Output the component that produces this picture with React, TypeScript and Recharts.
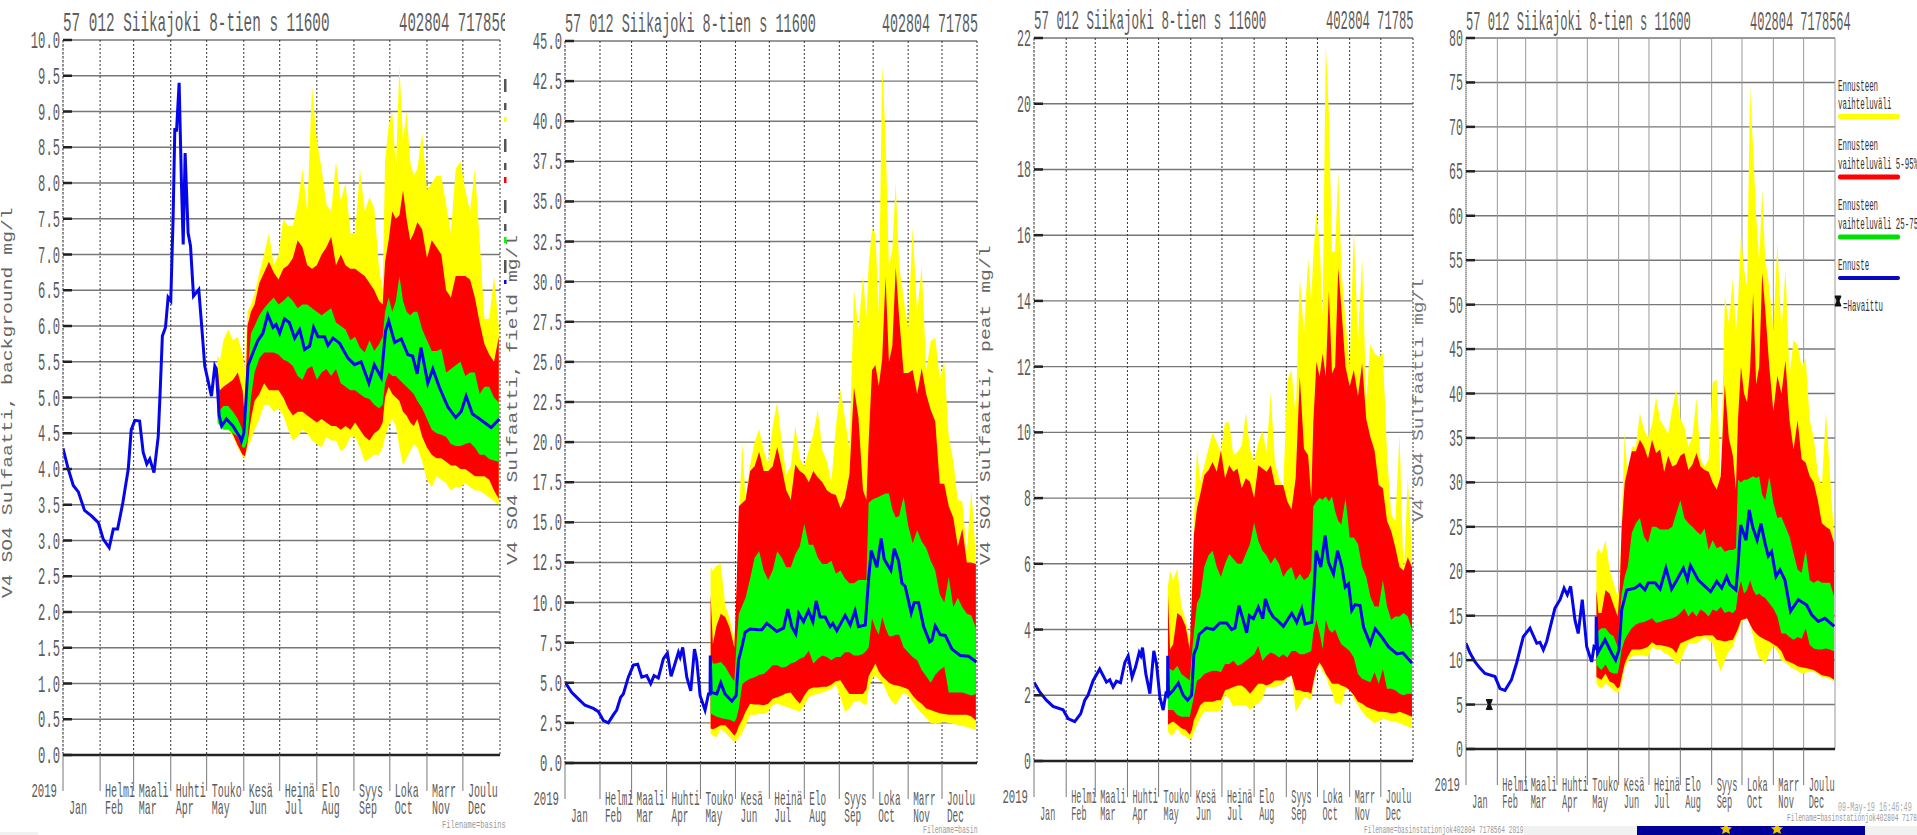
import React from 'react';
import { ComposedChart, Area, Line, Scatter, XAxis, YAxis, CartesianGrid } from 'recharts';

const monthDays = [0, 31, 59, 90, 120, 151, 181, 212, 243, 273, 304, 334];
const gridDays = [0, 31, 59, 90, 120, 151, 181, 212, 243, 273, 304, 334, 365];
const monthsFi = ['', 'Helmi', 'Maali', 'Huhti', 'Touko', 'Kesä', 'Heinä', 'Elo', 'Syys', 'Loka', 'Marr', 'Joulu'];
const monthsEn = ['Jan', 'Feb', 'Mar', 'Apr', 'May', 'Jun', 'Jul', 'Aug', 'Sep', 'Oct', 'Nov', 'Dec'];

const forecastDays = [129,131,134,138,142,146,150,152,154,157,160,164,168,172,176,180,184,188,192,196,200,204,208,212,216,220,224,228,232,236,240,244,248,252,256,260,264,267,269,272,275,278,281,284,287,290,293,296,300,304,308,312,316,320,324,328,332,336,340,344,348,352,356,360,364];

// background
const bgYellowHi = [5.6,5.5,5.8,5.95,5.8,5.85,5.6,5.4,6.2,6.3,6.45,6.75,7,7.3,6.85,7,7.5,7.4,7.4,7.7,8.2,7.6,9.35,8.6,8.2,7.7,7.6,8.3,7.75,8,7.3,7.3,8.2,7.6,7.8,7.65,6.8,6.5,8.3,8.8,9,8.2,9.65,8.6,9,8.3,8.1,8.2,8.7,7.9,8,8.1,8.1,7.7,7.3,8.2,8.3,7.9,7.6,8.2,7.2,6.1,6.1,6.7,6];
const bgRedHi = [5.45,5.1,5.15,5.2,5.25,5.35,5.1,4.7,6,6.2,6.3,6.6,6.75,6.9,6.75,6.65,6.8,6.85,6.95,7.2,7.1,6.85,6.8,6.85,7,7.1,7.25,6.85,7,6.85,6.8,6.8,6.75,6.7,6.6,6.5,6.35,6.3,6.9,7.2,7.6,7.5,7.55,7.9,7.5,7.2,7.3,7.45,7.35,6.95,7.2,7.1,7,6.5,6.4,6.7,6.7,6.7,6.65,6.4,6.05,5.75,5.6,5.5,5.85];
const bgGreenHi = [4.8,4.82,4.88,4.88,4.8,4.7,4.55,4.5,5.3,5.9,6,6.15,6.25,6.33,6.4,6.3,6.35,6.42,6.35,6.25,6.3,6.3,6.25,6.2,6.15,6.2,6.25,6.05,6,5.95,5.8,5.85,5.7,5.63,5.8,5.65,5.75,5.85,6.2,6.4,6.2,6.35,6.7,6.35,6.2,6.15,6.2,6.2,5.95,5.8,5.65,5.65,5.68,5.35,5.4,5.45,5.5,5.3,5.35,5.35,5.05,5.15,5.15,5,4.93];
const bgGreenLo = [4.65,4.6,4.55,4.55,4.5,4.45,4.3,4.3,4.4,5,5.35,5.55,5.63,5.63,5.63,5.6,5.53,5.5,5.44,5.3,5.25,5.4,5.44,5.25,5.35,5.4,5.3,5.4,5.2,5.15,5.1,5.1,5.05,5,4.98,4.9,4.85,4.9,5.2,5.35,5.3,5.3,5.25,5.2,5.15,5.1,5.05,4.95,4.85,4.7,4.55,4.5,4.48,4.45,4.35,4.32,4.32,4.35,4.37,4.3,4.2,4.2,4.14,4.12,4.1];
const bgRedLo = [4.8,4.72,4.62,4.58,4.48,4.33,4.2,4.18,4.35,4.7,4.95,5.05,5.2,5.1,5.1,5.1,5,4.85,4.75,4.8,4.8,4.75,4.7,4.65,4.7,4.65,4.6,4.6,4.55,4.6,4.55,4.65,4.55,4.45,4.4,4.5,4.55,4.65,5,5.15,5.05,5,4.95,4.8,4.75,4.65,4.6,4.7,4.45,4.3,4.2,4.15,4.15,4.1,4.05,4.05,4,4,3.95,3.9,3.9,3.9,3.85,3.7,3.58];
const bgYellowLo = [4.75,4.7,4.6,4.55,4.45,4.3,4.17,4.15,4.3,4.4,4.55,4.7,4.9,4.9,4.8,4.85,4.75,4.55,4.4,4.45,4.55,4.5,4.4,4.35,4.3,4.45,4.4,4.4,4.25,4.3,4.45,4.45,4.3,4.1,4.15,4.2,4.2,4.3,4.45,4.6,4.7,4.6,4.3,4.05,4.15,4.25,4.35,4.3,4.1,3.85,3.75,3.9,3.85,3.8,3.7,3.75,3.75,3.8,3.75,3.7,3.7,3.65,3.6,3.55,3.5];
const bgLineDays = [0,4.4,8.6,12.8,18,24,29.5,33.6,38.6,42,45.6,50,54.5,57,60,64,67,70,72.5,76,79.5,81,83,85.6,87.8,90,92,93.4,94.8,97,99,100.4,102,104.5,106.5,109,113.4,115.6,118.4,124,126.8,128,130.4,132.5,136.5,142,147.6,149,151,152.6,154.6,158.7,162.9,167,171,175.4,178,181,185,189,193.5,197.7,201.8,206,209.3,213,218.5,221.3,225.5,231,238,243.5,249,255.5,260,265.8,269.4,272,277,282.5,288,292,295.8,299,304.7,308.9,314.4,321.4,328,332.5,336.7,342,348,357.6,364.5];
const bgLine = [4.29,4,3.77,3.68,3.42,3.34,3.25,3.02,2.9,3.16,3.16,3.53,4,4.55,4.68,4.67,4.23,4.07,4.14,3.95,4.45,5.02,5.86,5.98,6.4,6.35,7.53,8.77,8.72,9.4,7.95,7.14,8.42,7.3,7.12,6.42,6.51,6.05,5.44,5.02,5.44,5.4,4.75,4.6,4.7,4.6,4.45,4.39,4.5,4.9,5.45,5.63,5.8,5.9,6.16,5.98,6.02,5.9,6.1,6.05,5.83,5.95,5.67,5.72,5.98,5.85,5.85,5.73,5.83,5.76,5.55,5.46,5.5,5.2,5.46,5.28,5.93,6.07,5.77,5.82,5.6,5.58,5.33,5.7,5.2,5.4,5.14,4.87,4.72,4.8,5.02,4.77,4.7,4.58,4.7];

// field
const fieldYellowHi = [12.2,12,12.3,12.4,9.8,9,7.6,10,15,20,16.4,18.6,20,20.8,19.5,18.6,21,22.5,20,18,18.5,21,19,18.5,19.5,20.5,22,19.5,18.8,17.5,21,23.3,21.5,19.5,29.5,27,30.4,27.8,31,33.3,33,28,43.5,39,31,32,36.2,31,29,27,33.4,28,31,24.5,26.3,26.5,24,25,20.3,18.8,16.4,16.3,13.2,17,12.8];
const fieldRedHi = [10.5,7.4,8.5,9.3,9.1,8.4,7.2,11,16,16.2,16.4,18.2,18.5,19.4,18.2,18.2,18.5,19.7,18.4,17,16.4,18.6,18.2,18,17.5,18.2,17.8,17.5,17,16.8,16.7,15.9,16.5,18,23.4,21.5,17,16.4,20,24.5,24.8,23.5,25.2,30.3,25,26,30.9,27.8,24.3,24.3,24.5,23,24.6,23,22,21.3,17.4,17.4,16,15.3,13.5,14.6,12.5,12.5,12.4];
const fieldGreenHi = [6.8,6.2,6.2,6.3,6,5.5,5.1,7.5,9.3,9.8,10.3,11.5,12.8,13.2,12,11.4,12,13.2,12.8,12.2,12.2,13,13.5,14.9,13.6,13.6,12.8,12.4,12.4,12.6,11.8,12,11.5,11.2,11.2,11.4,11.4,11.4,16.2,16.4,16.5,16.6,16.7,16.8,16.8,15.8,15.3,15.4,16.6,14.8,13.7,14.5,13.8,13.4,12.6,12,10.5,10,11.6,9.7,10.3,9.7,9.3,9.2,8.4];
const fieldGreenLo = [3.1,3,2.9,2.8,2.75,2.7,2.55,2.8,3.4,4.9,5.1,5.25,5.35,5.5,5.55,5.8,6.1,6.1,5.95,6,6.2,6.3,6.5,6.6,7,6.2,6.5,6.7,6.6,6.4,6.6,6.6,6.9,6.9,6.7,6.7,6.8,7,7.2,9,8.4,8,9.1,8.4,7.9,7.9,8,8,7.2,6.9,6.6,6.4,5.8,5.4,5,5.5,5.8,6,4.4,4.4,4.4,4.4,4.3,4.2,4.3];
const fieldRedLo = [2.15,2.1,2.2,2.35,2.35,2.05,1.7,1.9,2.3,2.7,3.2,3.7,3.65,3.65,3.6,3.7,4,4.1,4.2,4.35,4.4,4,3.7,4.2,4.6,4.7,4.7,4.75,4.75,4.9,5.1,5.15,4.7,4.3,4.3,4.3,4.3,4.6,5.4,5.8,6.2,5.7,5.4,5.2,5,4.9,4.85,4.8,4.7,4.6,4.2,3.9,3.7,3.4,3.3,3.2,3.1,3.05,3,3,3,3,3,2.9,2.65];
const fieldYellowLo = [1.85,1.7,1.6,2.1,1.9,1.6,1.3,1.4,1.55,1.9,2.3,3,3,3.05,3.05,3.2,3.6,3.7,3.6,3.5,3.4,3.3,3.2,3.6,4.1,4.25,4.3,4.4,4.5,4.6,4.9,4.1,3.2,3.4,3.8,3.9,3.7,3.6,4.6,5.25,5.45,5.2,5,4.6,4.1,3.8,3.6,4,4.4,4.2,3.8,3.4,3.1,2.8,2.5,2.45,2.5,2.55,2.5,2.45,2.35,2.3,2.25,2.15,2.05];
const fieldLineDays = [0,5.9,11.8,17.7,25.1,29.6,34,38.4,42.8,45.8,49.3,51.7,56.1,60.6,64.4,68,72.4,75.9,78.9,82.7,87.2,90.7,94,96.6,100.5,102,104.3,107.9,111.4,114.7,116.7,119.7,124.1,127.1,128.5,128.7,129.5,134.5,138,141.8,147.8,151.6,153.7,156.6,159.6,164,171.4,174.3,178.8,187.6,193.6,197.4,200.9,204.5,207.1,211.3,215.7,219.6,222.5,226,230.5,234.9,237.3,240.8,248.2,252.7,257,260,266,268.9,271.3,276.3,280.1,282.8,288.7,291.7,295.5,298.5,301.4,306.7,309.4,313.2,317.7,323,325,328,332.4,336.9,342.8,350.2,357.6,364.4];
const fieldLine = [5.05,4.4,4,3.6,3.4,3.2,2.65,2.5,3,3.3,4.1,4.3,5.35,6.1,6.15,5.35,5.45,4.95,5.45,5.3,6.5,6.85,5.4,6,6.9,6.6,7.2,5.35,4.5,7.1,6.4,4.2,3.3,4.3,4.3,6.7,4.4,4.3,5,4.3,3.85,4.2,6.4,7.2,8.15,8.35,8.3,8.3,8.7,8.2,8.4,9.6,8.5,8.05,9.3,8.8,9.5,8.8,10.1,9.1,9.1,8.5,8.7,8.25,9.2,8.6,9.5,8.5,8.6,11.4,13.25,12.2,14,12.7,12,13.35,12.6,11.2,11,9.35,10,10,8.5,7.55,7.65,8.55,8,7.95,7.1,6.7,6.65,6.3];

// peat
const peatYellowHi = [5.3,5.8,5.5,5.85,4.7,4.3,3.7,4.4,7.3,9.5,8.5,9,9.5,10,9.7,9.4,10.3,10.3,9.3,9.4,9.6,10.6,9.5,9.1,9.7,10.05,9.4,11.2,9.1,8.6,8.3,11.6,11.9,10.5,14.7,13,15.3,14,15.4,16.7,15.8,13.6,21.8,19.7,15.5,15.5,17.95,15,13.4,12,16.2,12.8,15.3,11,12.7,12.4,12.3,12.4,9.35,7.5,7.3,9.95,5.6,8.6,6.3];
const peatRedHi = [5.1,3.4,3.55,4.5,4.4,4.1,3.4,5,6.9,7.7,8.1,8.7,8.85,9.1,8.8,9.45,8.6,9,8.8,8.9,8.3,8.6,8.5,8,9,8.9,8.8,9,8.4,8.4,8.4,7.9,7.65,8.6,11.7,9.5,9.3,8,10.3,12.15,11.7,12.4,11.7,14.3,11.8,12,15,13.8,12,11.4,11.9,11.1,12.1,10.4,9.85,9.45,8.4,8.3,7.3,7,6.5,5.9,5.8,6.2,5.9];
const peatGreenHi = [2.85,2.8,2.75,2.9,2.65,2.55,2.45,3.25,3.9,4.8,5,5.9,6.25,6.4,5.9,5.6,6,6.3,6.15,6,6,6.3,6.6,7.25,6.7,6.4,6.25,6,6.2,6,5.6,5.8,5.9,5.5,5.7,5.5,5.6,5.8,7.75,7.9,8,7.95,8.05,7.9,8.05,7.6,7.3,7.2,8,6.8,6.8,6.6,5.9,5.6,5,4.7,4.7,5.5,4.7,4.3,4.4,4.4,4.5,4.4,4];
const peatGreenLo = [1.55,1.55,1.55,1.4,1.35,1.35,1.35,1.65,1.95,2.45,2.5,2.65,2.7,2.75,2.75,2.7,2.95,2.95,3.05,2.9,2.95,3.05,3.15,3.25,3.5,3.05,3.2,3.3,3.25,3.15,3.25,3.15,3.35,3.35,3.25,3.25,3.3,3.35,3.9,4.3,3.9,3.4,4.3,4,3.9,4,3.75,3.55,3.45,3.35,3.15,2.65,2.5,2.45,2.4,2.7,2.35,2.8,2.2,2.2,2.15,2.05,2,2.05,2.05];
const peatRedLo = [1.1,1.15,1.2,1.1,1,0.95,0.8,0.95,1.25,1.45,1.7,1.8,1.8,1.8,1.85,1.85,2.15,2.2,2.25,2.3,2.3,2.2,2.05,2.2,2.35,2.35,2.3,2.35,2.45,2.45,2.45,2.55,2.6,2.15,2.15,2.1,2.1,2.05,2.4,2.8,3,2.85,2.65,2.5,2.35,2.35,2.35,2.3,2.25,2.15,2,1.8,1.75,1.65,1.6,1.55,1.5,1.5,1.48,1.45,1.45,1.5,1.45,1.4,1.35];
const peatYellowLo = [0.9,0.8,0.8,1,0.8,0.75,0.65,0.7,0.85,1.1,1.3,1.5,1.5,1.5,1.5,1.55,2,1.9,1.65,1.7,1.7,1.7,1.55,1.7,1.75,1.9,2.25,2.25,2.25,2.3,2.35,2.5,2.6,1.5,1.7,1.95,1.9,1.85,2.3,2.75,2.95,2.7,2.6,2.3,2.1,1.75,1.75,1.7,2.2,2.2,1.9,1.7,1.5,1.35,1.25,1.15,1.2,1.3,1.25,1.2,1.2,1.15,1.1,1.05,1];
const peatLineDays = [0,5.5,11.9,18.3,28,32.8,39.2,45,48.9,52,57,63.3,69.8,73,76.2,79.4,83.3,87.5,90.7,94.5,97.7,101.3,102.9,104.5,107.7,111.6,115.4,118,121.2,124.4,127,128.6,128.8,129.6,134,139,143.7,148,151.8,154,156.6,159,166,172.7,179,185.5,190.4,193.6,197.4,201.6,204.8,207.4,211.3,216,220.3,222.8,226.7,230.5,234.7,240.2,248.2,253,257.9,261,267.5,269.8,271.7,276.2,280.4,283.6,288.4,292.3,296.5,299.7,302.9,306,309.3,314,317.4,323.8,328.6,335,341.5,349.5,355.3,364];
const peatLine = [2.4,2.1,1.85,1.66,1.56,1.29,1.2,1.44,1.85,2,2.45,2.8,2.4,2.47,2.25,2.43,2.38,3,3.2,2.55,2.85,3.3,3.2,3.45,2.65,2.05,3.35,2.95,1.95,1.55,2.05,2,3.2,2,2.15,2.37,2,1.85,2,3.25,3.45,3.85,4.05,4,4.2,4.2,4,4.05,4.73,4.27,3.9,4.42,4.33,4.68,4.33,4.93,4.58,4.38,4.27,4.1,4.5,4.22,4.63,4.17,4.22,5.29,6.4,5.9,6.86,6.05,5.69,6.4,5.9,5.29,5.39,4.58,4.76,4.73,4.07,3.57,4.02,3.77,3.47,3.26,3.29,2.98];

// total
const totalYellowHi = [22,22.6,21.9,23.5,20.2,18.7,17.2,18.3,25.8,35.7,30.3,34,34,37.8,36,35,36.5,39.6,37,36.3,35.5,38.3,40.4,37.2,36.3,34,35.2,39.5,32.6,31.8,32.6,41.2,41.6,30,51,48,53,47,50,58,54,52,74.5,67.5,60,55,63,55,52,47,57,47,54,42,46,45.5,43,44,37,35,31,29.5,38,31,24];
const totalRedHi = [17.9,15.3,15.3,17.9,17.5,16.2,14.9,18,25,30,31.5,33.5,33.5,34.8,34,32.7,34.8,33.3,33.7,31.2,33,31.8,32,33,33.3,31.4,32,33.3,31.8,31.4,31.2,30,29.2,30.7,41,35,33,29.2,37,43,40,39,42.7,51.3,41,43,53.6,49.4,43,38,42,40,43.7,37,33.7,37,32.6,32.2,30.7,30,28,25.4,25,24.7,23.2];
const totalGreenHi = [13,13.3,13.6,13.6,13,12.7,11.5,15,17.5,19.4,20.5,24.3,25.4,26,23.9,23.2,25,25,24.7,24.7,24.7,25,26.5,28,26,25.4,25,24.5,24.1,24.8,22.4,23.5,22.6,22.8,22.2,22.4,22.4,22.6,30.3,30,30.3,30.3,30.5,30.7,30.5,30.7,28.6,28,30.7,27.7,26,26.1,25,23.9,22,20.2,19.8,22.4,19,18.7,19,18.7,18.7,18.7,17.2];
const totalGreenLo = [9.5,9.2,8.9,9.5,8.7,8.5,8.5,9.6,11.2,12.3,12.9,13.6,14,14.2,14.3,14.5,14.7,14.2,14.3,14.5,14.6,14.7,14.9,15.3,15.8,14.9,15.5,14.9,15.7,15.4,14.9,15.7,15.5,16,15.3,15.5,15.3,15.7,17.5,18.9,17.5,17.9,19,17.9,17.3,17.5,17.2,17,16.4,15.8,14.9,13,13,12.6,12.3,12.6,12.4,13.6,11.7,11.3,11.2,11.2,11.3,11.2,11];
const totalRedLo = [8.1,7.95,7.8,8.5,7.6,7.4,6.8,7,8.1,9.6,10.4,11.2,11.2,11.2,11.3,11.5,12,11.7,11.7,11.6,11.5,11.3,10.8,11.9,12.1,12.3,12.5,12.7,12.7,12.8,12.8,12.8,12.3,12.2,12.1,12.2,12.3,13,13.5,14.5,14.6,14.7,14,13.4,13,12.7,12.5,12.3,12.1,11.8,11.5,11,10,9.8,9.6,9.3,9.2,9.1,9,8.9,8.6,8.3,8.2,8.1,7.8];
const totalYellowLo = [7.4,7,6.8,7.4,7,6.6,6.3,6.5,7.4,9.1,9.8,10.4,10.5,10.6,10.5,10.4,11.5,11.2,11.2,10.8,10.6,10.2,9.5,9.8,11,11.9,11.9,11.9,12.2,12.6,12.2,11.9,10,8.7,10,11,11.5,12.6,13,14.2,14.6,14.7,14,12.7,11.2,10.2,10,9.5,10.8,11.6,11,10,9.7,9.3,9,8.8,8.5,8.6,8.7,8.7,8.4,8.1,8,7.9,7.6];
const totalLineDays = [0,4,9,13.8,18.8,28.7,33.6,38.6,45,50,56.7,63.3,70,73.2,76.5,79.8,88,93,97,100.2,103.5,107.8,111,115,119.4,124.3,126.6,128.6,128.8,130.2,137.5,144,148,151.3,154,159,167,172,177,180.3,187,192,197.8,203.4,208.4,215,219,222,229.8,236.4,242,248,252.9,257.8,261,267,269,271.7,277,280.2,283.5,288,291.8,295.7,299,302.3,306.6,310.6,315.5,321,328.7,337,341.9,348.5,355,364.3];
const totalLine = [11.9,10.8,9.8,9.1,8.5,8.15,6.8,6.6,7.8,9.65,12.65,13.6,11.9,12,11.15,12.1,15.85,16.8,18.1,17.35,18.3,14.5,13,16.8,11.5,9.8,11.5,11.3,14.9,10.8,12.3,10.8,10,11.15,15.65,17.9,18.1,18.5,17.9,18.7,18.7,18,20.35,18,19,20.35,19,20.65,19,18.3,17.7,18.85,18.1,19.4,18.5,17.9,20.5,25.2,23.5,26.9,25,23.5,25.35,23.2,21.7,22.2,19.4,20.15,19,15.5,16.8,16.2,15.1,14.35,14.7,13.8];
const observedDays = [23];
const observedValues = [5];

const bgTicks = [0,0.5,1,1.5,2,2.5,3,3.5,4,4.5,5,5.5,6,6.5,7,7.5,8,8.5,9,9.5,10];
const fieldTicks = [0,2.5,5,7.5,10,12.5,15,17.5,20,22.5,25,27.5,30,32.5,35,37.5,40,42.5,45];
const peatTicks = [0,2,4,6,8,10,12,14,16,18,20,22];
const totalTicks = [0,5,10,15,20,25,30,35,40,45,50,55,60,65,70,75,80];

const FONT = '"Liberation Mono", monospace';
const INK = '#5c5c5c';
const TOP_PAD = 20;

const bands = (yl: number[], rl: number[], gl: number[], gh: number[], rh: number[], yh: number[]) =>
  forecastDays.map((day, i) => ({ day, yellow: [yl[i], yh[i]], red: [rl[i], rh[i]], green: [gl[i], gh[i]] }));

const series = (days: number[], values: number[]) => days.map((day, i) => ({ day, value: values[i] }));

const panels = [
  {
    key: 'background', left: 63, right: 500, top: 40, bottom: 755, ticks: bgTicks, decimals: 1, tickChar: 7.3, monthChar: 6,
    rows: bands(bgYellowLo, bgRedLo, bgGreenLo, bgGreenHi, bgRedHi, bgYellowHi), line: series(bgLineDays, bgLine), dotted: true,
  },
  {
    key: 'field', left: 565, right: 977, top: 40.5, bottom: 762.5, ticks: fieldTicks, decimals: 1, tickChar: 7.3, monthChar: 5.6,
    rows: bands(fieldYellowLo, fieldRedLo, fieldGreenLo, fieldGreenHi, fieldRedHi, fieldYellowHi), line: series(fieldLineDays, fieldLine), dotted: true,
  },
  {
    key: 'peat', left: 1034, right: 1413, top: 38, bottom: 761, ticks: peatTicks, decimals: 0, tickChar: 7, monthChar: 5.1,
    rows: bands(peatYellowLo, peatRedLo, peatGreenLo, peatGreenHi, peatRedHi, peatYellowHi), line: series(peatLineDays, peatLine), dotted: true,
  },
  {
    key: 'total', left: 1466, right: 1835, top: 38, bottom: 749, ticks: totalTicks, decimals: 0, tickChar: 7, monthChar: 5.2,
    rows: bands(totalYellowLo, totalRedLo, totalGreenLo, totalGreenHi, totalRedHi, totalYellowHi), line: series(totalLineDays, totalLine), dotted: false,
  },
];

// the original plot font is tall and narrow, so the mono face is squeezed sideways (its advance is 0.6em)
const Squeezed = ({ x, y, text, size, charW, fill = INK, anchor = 'start', rotate = false }: any) => (
  <text
    fontFamily={FONT}
    fontSize={size}
    fill={fill}
    textAnchor={anchor}
    transform={`translate(${x} ${y})${rotate ? ' rotate(-90)' : ''} scale(${charW / (0.6 * size)} 1)`}
  >
    {text}
  </text>
);

const YTick = ({ x, y, payload, decimals, charW }: any) => {
  const text = Number(payload.value).toFixed(decimals);
  return (
    <g>
      <line x1={x} x2={x + 9} y1={y} y2={y} stroke="#222" strokeWidth={2.5} />
      <Squeezed x={x - 3} y={y + 8} text={text} size={24} charW={charW} anchor="end" />
    </g>
  );
};

const XTick = ({ x, y, payload, charW }: any) => {
  const i = monthDays.indexOf(payload.value);
  const first = i === 0;
  return (
    <g>
      {first && <Squeezed x={x - 6} y={y + 6} text="2019" size={21} charW={6.4} anchor="end" />}
      {monthsFi[i] && <Squeezed x={x + 5} y={y + 6} text={monthsFi[i]} size={20} charW={charW} />}
      <Squeezed x={first ? x + 6 : x + 5} y={y + 23} text={monthsEn[i]} size={20} charW={charW} />
    </g>
  );
};

const Hourglass = ({ cx, cy }: any) => (
  <path d={`M${cx - 3} ${cy - 5}h6l-2 5 2 5h-6l2 -5z`} fill="#111" stroke="#111" />
);

function Panel({ p }: any) {
  const plotW = p.right - p.left;
  const plotH = p.bottom - p.top;
  const yMax = p.ticks[p.ticks.length - 1];
  return (
    <div style={{ position: 'absolute', left: p.left - 40, top: p.top - TOP_PAD }}>
      <ComposedChart
        width={plotW + 42}
        height={plotH + TOP_PAD + 70}
        data={p.rows}
        margin={{ top: TOP_PAD, right: 2, left: 0, bottom: 0 }}
      >
        <XAxis
          dataKey="day"
          type="number"
          domain={[0, 365]}
          ticks={monthDays}
          interval={0}
          height={70}
          tickSize={36}
          tickMargin={0}
          allowDataOverflow
          axisLine={{ stroke: '#222', strokeWidth: 2.5 }}
          tickLine={{ stroke: '#777' }}
          tick={(t: any) => <XTick {...t} charW={p.monthChar} />}
        />
        <YAxis
          type="number"
          domain={[0, yMax]}
          ticks={p.ticks}
          interval={0}
          width={40}
          tickSize={0}
          tickMargin={0}
          allowDataOverflow
          axisLine={{ stroke: '#777', strokeDasharray: '1 1' }}
          tickLine={false}
          tick={(t: any) => <YTick {...t} decimals={p.decimals} charW={p.tickChar} />}
        />
        <Area dataKey="yellow" type="linear" fill="#ffff00" fillOpacity={1} stroke="none" dot={false} activeDot={false} isAnimationActive={false} />
        <Area dataKey="red" type="linear" fill="#ff0000" fillOpacity={1} stroke="none" dot={false} activeDot={false} isAnimationActive={false} />
        <Area dataKey="green" type="linear" fill="#00ff00" fillOpacity={1} stroke="none" dot={false} activeDot={false} isAnimationActive={false} />
        <CartesianGrid vertical={false} stroke="#555" strokeWidth={1.4} strokeOpacity={0.8} />
        <CartesianGrid
          horizontal={false}
          verticalValues={gridDays}
          stroke={p.dotted ? '#333' : '#999'}
          strokeDasharray={p.dotted ? '2 2' : undefined}
        />
        <Line data={p.line} dataKey="value" type="linear" stroke="#0606ea" strokeWidth={3} dot={false} activeDot={false} isAnimationActive={false} />
        {p.key === 'total' && (
          <Scatter
            data={series(observedDays, observedValues)}
            dataKey="value"
            shape={<Hourglass />}
            isAnimationActive={false}
          />
        )}
      </ComposedChart>
    </div>
  );
}

const legendStubs = [
  [79, 13, '#555'], [103, 7, '#555'], [117, 5, '#ffff00'], [139, 13, '#555'], [163, 7, '#555'], [177, 6, '#ff0000'],
  [200, 13, '#555'], [224, 7, '#555'], [237, 6, '#00ff00'], [260, 13, '#555'], [280, 4, '#0000ff'],
];

function Overlay() {
  const legendText = '#333';
  const title = '57 012 Siikajoki 8-tien s 11600';
  const station = '402804 7178564';
  return (
    <svg width={1917} height={835} style={{ position: 'absolute', left: 0, top: 0, pointerEvents: 'none' }}>
      <rect x={1524} y={826} width={393} height={9} fill="#f1f1f1" />
      <rect x={0} y={832} width={38} height={3} fill="#f1f1f1" />
      <svg x={1637} y={826} width={228} height={9}>
        <rect width={228} height={9} fill="#000096" />
        <path d="M89 -3l2 4 4 .5-3 2.500 1 4-4-2-4 2 1-4-3-2.500 4-.5z" fill="#f5c400" />
        <path d="M140 -3l2 4 4 .5-3 2.500 1 4-4-2-4 2 1-4-3-2.500 4-.5z" fill="#f5c400" />
      </svg>

      <Squeezed x={63} y={31} text={title} size={27} charW={8.6} />
      <Squeezed x={565} y={32} text={title} size={27} charW={8.1} />
      <Squeezed x={1034} y={29} text={title} size={27} charW={7.5} />
      <Squeezed x={1466} y={30} text={title} size={27} charW={7.25} />
      <svg x={399} y={0} width={106} height={40}>
        <Squeezed x={0} y={31} text={station} size={27} charW={8.4} />
      </svg>
      <svg x={882} y={0} width={96} height={40}>
        <Squeezed x={0} y={32} text={station} size={27} charW={8} />
      </svg>
      <svg x={1326} y={0} width={87} height={40}>
        <Squeezed x={0} y={29} text={station} size={27} charW={7.3} />
      </svg>
      <Squeezed x={1750} y={30} text={station} size={27} charW={7.2} />

      <Squeezed x={12} y={598} text="V4 SO4 Sulfaatti, background mg/l" size={15} charW={11.85} fill="#666" rotate />
      <Squeezed x={517} y={565} text="V4 SO4 Sulfaatti, field mg/l" size={15} charW={11.8} fill="#666" rotate />
      <Squeezed x={990} y={565} text="V4 SO4 Sulfaatti, peat mg/l" size={15} charW={11.85} fill="#666" rotate />
      <Squeezed x={1423} y={522} text="V4 SO4 Sulfaatti mg/l" size={15} charW={11.6} fill="#777" rotate />

      {legendStubs.map(([y, h, fill]: any) => (
        <rect key={y} x={504} y={y} width={2.5} height={h} fill={fill} />
      ))}

      <Squeezed x={1838} y={91} text="Ennusteen" size={17} charW={4.45} fill={legendText} />
      <Squeezed x={1838} y={108.5} text="vaihteluväli" size={17} charW={4.45} fill={legendText} />
      <rect x={1838} y={114} width={62} height={5} rx={2} fill="#ffff00" />
      <Squeezed x={1838} y={150} text="Ennusteen" size={17} charW={4.45} fill={legendText} />
      <Squeezed x={1838} y={168.5} text="vaihteluväli 5-95%" size={17} charW={4.45} fill={legendText} />
      <rect x={1838} y={174.500} width={62} height={5} rx={2} fill="#ff0000" />
      <Squeezed x={1838} y={210} text="Ennusteen" size={17} charW={4.45} fill={legendText} />
      <Squeezed x={1838} y={229} text="vaihteluväli 25-75%" size={17} charW={4.45} fill={legendText} />
      <rect x={1838} y={234.500} width={62} height={5} rx={2} fill="#00e000" />
      <Squeezed x={1838} y={270} text="Ennuste" size={17} charW={4.45} fill={legendText} />
      <rect x={1838} y={276} width={62} height={4} rx={2} fill="#0808c0" />
      <path d="M1835 296h6l-2 5 2 5h-6l2 -5z" fill="#111" stroke="#111" />
      <Squeezed x={1843} y={311} text="=Havaittu" size={17} charW={4.45} fill={legendText} />

      <Squeezed x={442} y={828} text="Filename=basins" size={11} charW={4.25} fill="#999" />
      <Squeezed x={923} y={833} text="Filename=basin" size={10} charW={3.9} fill="#999" />
      <Squeezed x={1364} y={833} text="Filename=basinstationjok402804 7178564 2019" size={10} charW={3.72} fill="#999" />
      <Squeezed x={1838} y={811} text="09-May-19 16:46:49" size={13} charW={4.1} fill="#aaa" />
      <svg x={1787} y={810} width={130} height={14}>
        <Squeezed x={0} y={11} text="Filename=basinstationjok402804 7178564" size={11} charW={3.72} fill="#999" />
      </svg>
    </svg>
  );
}

export default function App() {
  return (
    <div style={{ position: 'fixed', left: 0, top: 0, width: 1917, height: 835, background: '#fff', overflow: 'hidden' }}>
      {panels.map((p) => (
        <Panel key={p.key} p={p} />
      ))}
      <Overlay />
    </div>
  );
}
